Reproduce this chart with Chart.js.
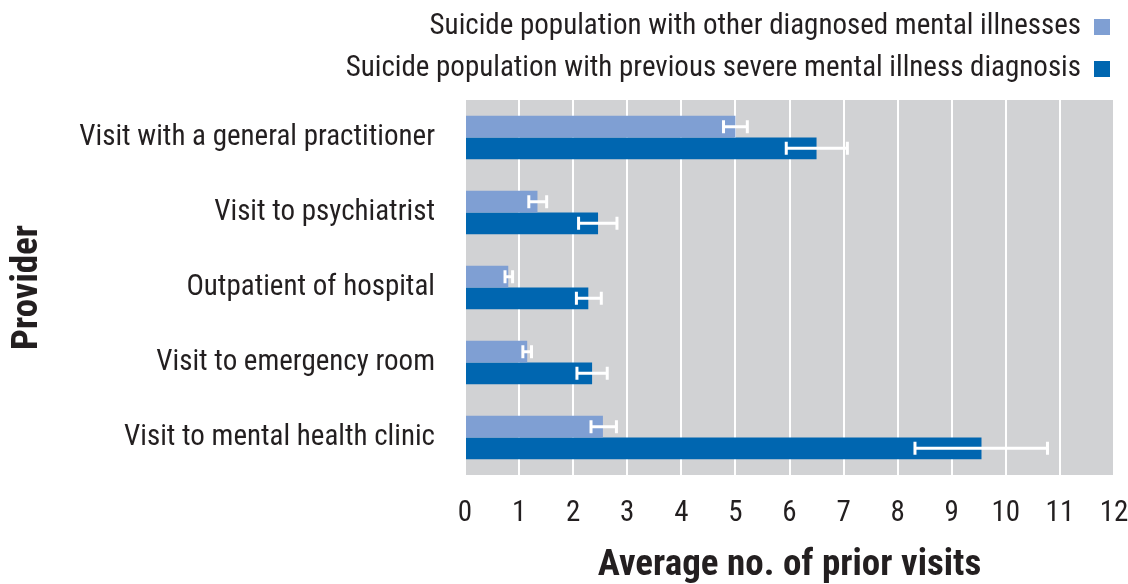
<!DOCTYPE html>
<html>
<head>
<meta charset="utf-8">
<script src="https://cdn.jsdelivr.net/npm/chart.js@4/dist/chart.umd.min.js"></script>
<style>
  html,body{margin:0;padding:0;background:#fff;}
  #wrap{width:1128px;height:584px;position:relative;}
</style>
</head>
<body>
<div id="wrap"><canvas id="cv"></canvas></div>
<script>
/* ===== 資料 ===== */
const providers = [
  'Visit with a general practitioner',
  'Visit to psychiatrist',
  'Outpatient of hospital',
  'Visit to emergency room',
  'Visit to mental health clinic'
];
const otherLabel  = 'Suicide population with other diagnosed mental illnesses';
const severeLabel = 'Suicide population with previous severe mental illness diagnosis';

const otherMean  = [5.0, 1.34, 0.80, 1.15, 2.55];
const otherLo    = [4.78, 1.18, 0.74, 1.07, 2.33];
const otherHi    = [5.22, 1.51, 0.88, 1.23, 2.80];

const severeMean = [6.5, 2.46, 2.28, 2.35, 9.55];
const severeLo   = [5.94, 2.10, 2.06, 2.07, 8.32];
const severeHi   = [7.07, 2.81, 2.52, 2.63, 10.77];

const xTicks = [0,1,2,3,4,5,6,7,8,9,10,11,12];

const LIGHT = '#7f9fd3', DARK = '#0066b0', BG = '#d1d2d4', INK = '#231f20';
const FONT = "'Roboto Condensed','Liberation Sans',sans-serif";

/* 灰色底 */
const plotBg = {id:'plotBg', beforeDraw(c){
  const {ctx, chartArea:{left,right,top,bottom}} = c;
  ctx.save(); ctx.fillStyle = BG; ctx.fillRect(left, top, right-left, bottom-top); ctx.restore();
}};

/* 誤差線（白色） */
const errBars = {id:'errBars', afterDatasetsDraw(c){
  const {ctx, scales:{x}} = c;
  ctx.save(); ctx.strokeStyle = '#fff'; ctx.lineWidth = 3;
  c.data.datasets.forEach((ds, di) => {
    c.getDatasetMeta(di).data.forEach((bar, i) => {
      const x1 = x.getPixelForValue(ds.errLo[i]), x2 = x.getPixelForValue(ds.errHi[i]), y = bar.y, h = 6.5;
      ctx.beginPath();
      ctx.moveTo(x1, y); ctx.lineTo(x2, y);
      ctx.moveTo(x1, y-h); ctx.lineTo(x1, y+h);
      ctx.moveTo(x2, y-h); ctx.lineTo(x2, y+h);
      ctx.stroke();
    });
  });
  ctx.restore();
}};

/* 圖例：文字靠右、色塊在右 */
const rightLegend = {id:'rightLegend', afterDraw(c){
  const {ctx} = c, boxRight = 1110, box = 16;
  ctx.save(); ctx.font = `29px ${FONT}`; ctx.textAlign = 'right'; ctx.textBaseline = 'middle';
  c.data.datasets.forEach((ds, i) => {
    const y = 27 + i*42;
    ctx.fillStyle = INK; ctx.fillText(ds.label, boxRight - box - 13, y);
    ctx.fillStyle = ds.backgroundColor; ctx.fillRect(boxRight - box, y - box/2, box, box);
  });
  ctx.restore();
}};

new Chart(document.getElementById('cv'), {
  type: 'bar',
  data: {
    labels: providers,
    datasets: [
      {label: otherLabel,  data: otherMean,  errLo: otherLo,  errHi: otherHi,  backgroundColor: LIGHT},
      {label: severeLabel, data: severeMean, errLo: severeLo, errHi: severeHi, backgroundColor: DARK}
    ]
  },
  options: {
    indexAxis: 'y',
    responsive: true, maintainAspectRatio: false, animation: false,
    layout: {padding: {top: 100, right: 14, left: 0, bottom: 0}},
    datasets: {bar: {categoryPercentage: 0.577, barPercentage: 1.0}},
    plugins: {legend: {display: false}, tooltip: {enabled: false}},
    scales: {
      x: {
        min: 0, max: 12,
        afterBuildTicks: s => { s.ticks = xTicks.map(v => ({value: v})); },
        afterFit: s => { s.height = 109; s.paddingLeft = 0; s.paddingRight = 0; },
        grid: {color: '#fff', lineWidth: 2, drawTicks: false},
        border: {display: false},
        ticks: {color: INK, padding: 21, font: {family: FONT, size: 29}},
        title: {display: true, text: 'Average no. of prior visits', color: INK,
                font: {family: FONT, size: 37, weight: 'bold'}, padding: {top: 6, bottom: -4}}
      },
      y: {
        afterFit: s => { s.width = 465; s.paddingTop = 0; s.paddingBottom = 0; },
        grid: {display: false},
        border: {display: false},
        ticks: {color: INK, padding: 22, font: {family: FONT, size: 29}},
        title: {display: true, text: 'Provider', color: INK,
                font: {family: FONT, size: 37, weight: 'bold'}, padding: {top: 6}}
      }
    }
  },
  plugins: [plotBg, errBars, rightLegend]
});
</script>
</body>
</html>
